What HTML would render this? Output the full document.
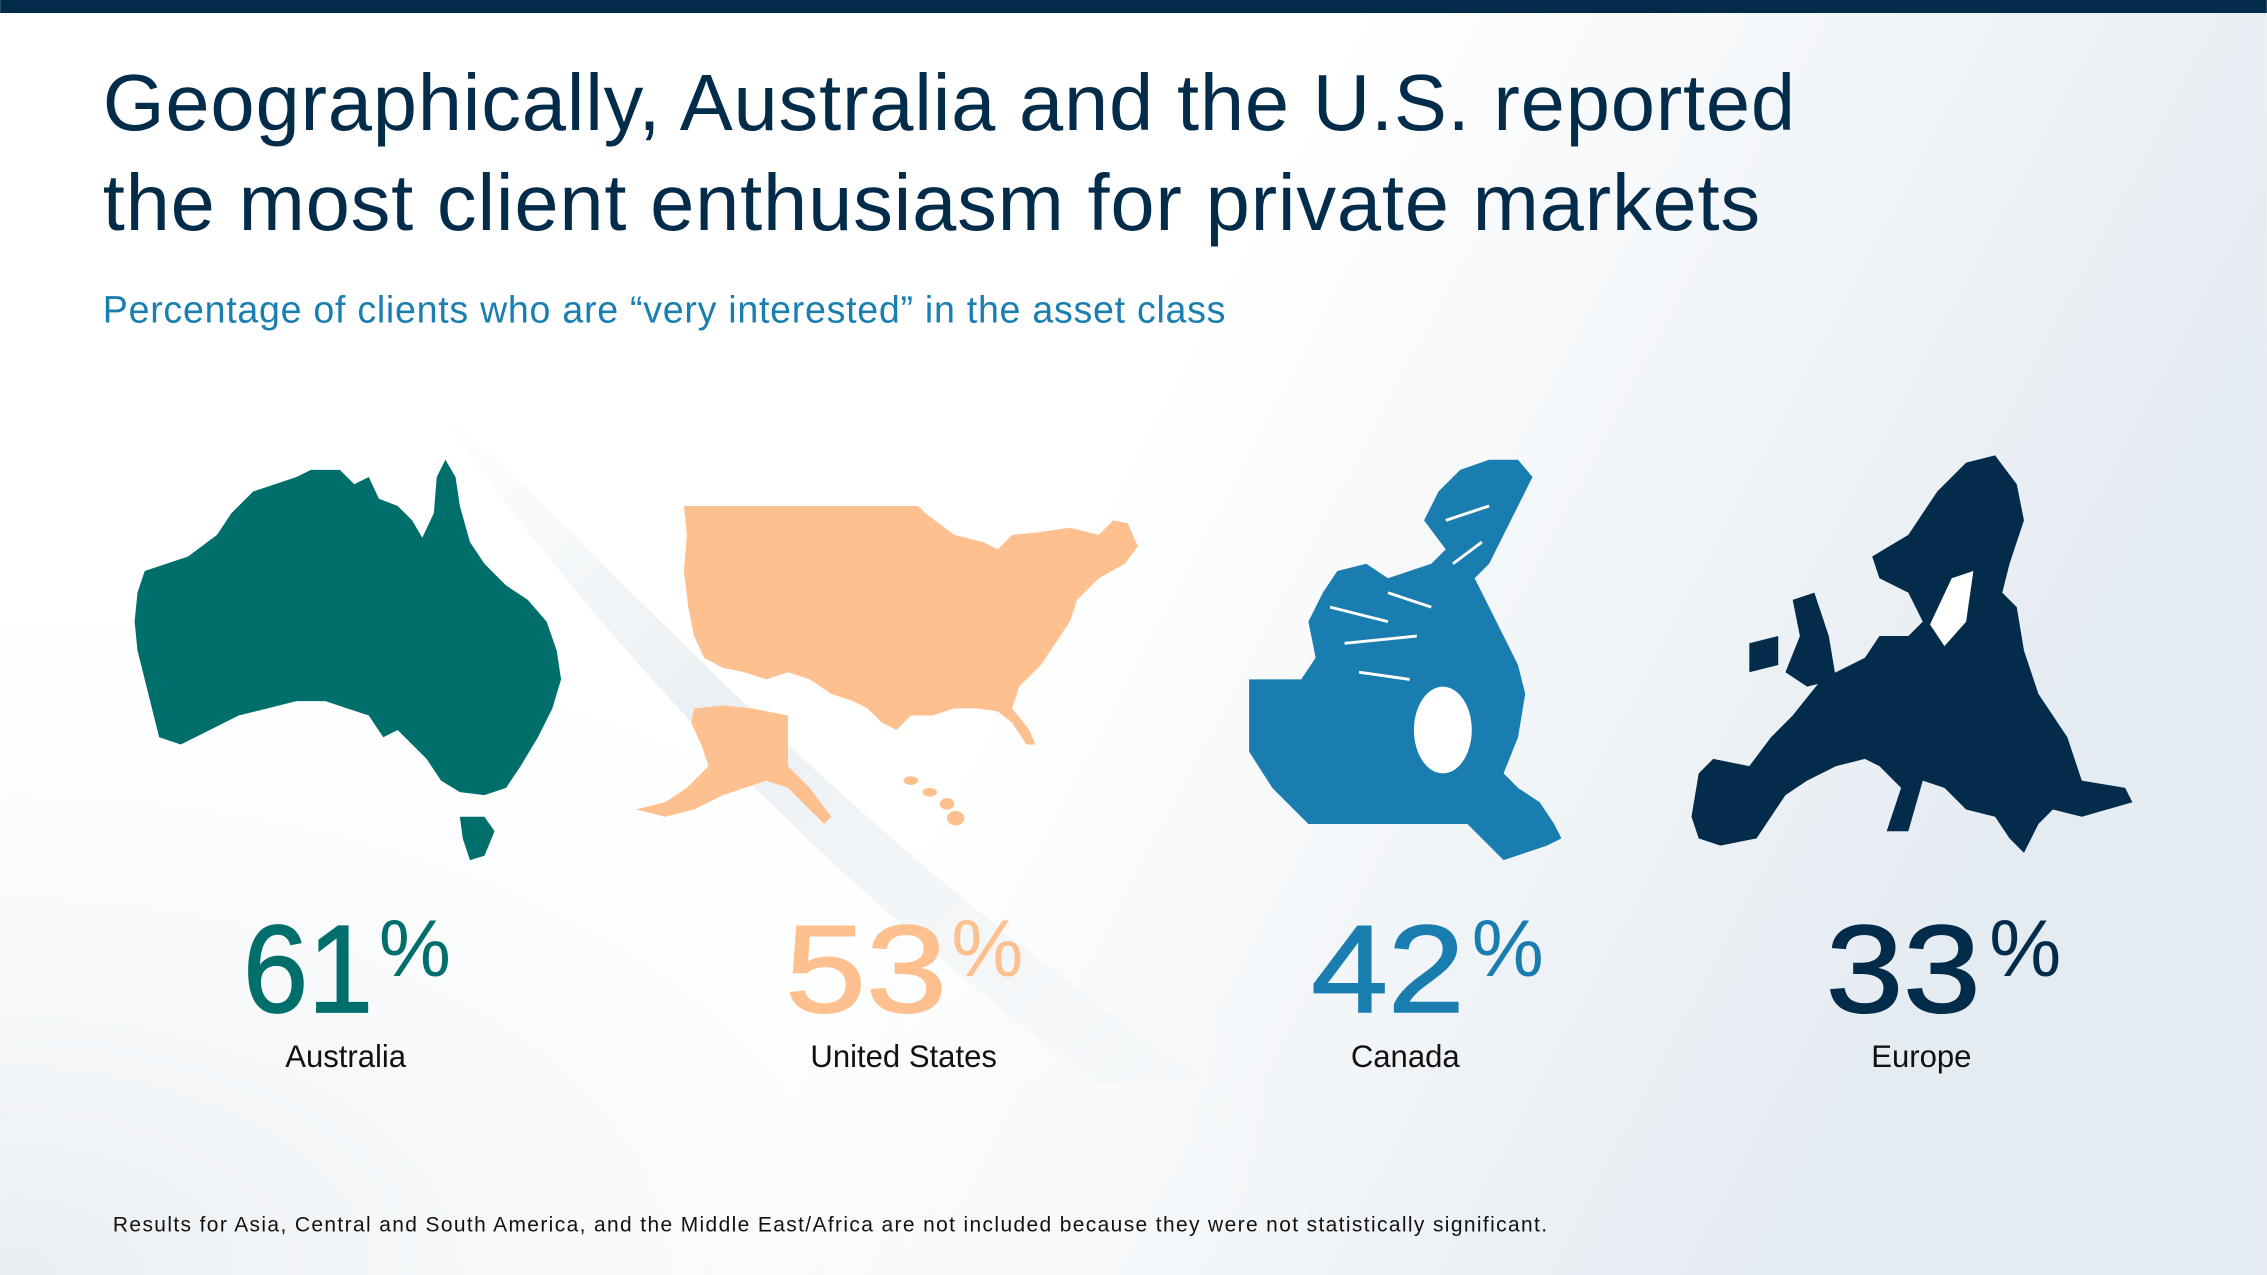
<!DOCTYPE html>
<html><head><meta charset="utf-8"><style>
html,body{margin:0;padding:0;width:2267px;height:1275px;overflow:hidden;background:#fff}
svg{display:block}
text{font-family:"Liberation Sans",sans-serif}
</style></head><body>
<svg width="2267" height="1275" viewBox="0 0 1568 882" xmlns="http://www.w3.org/2000/svg">
<defs>
<linearGradient id="bg" x1="0" y1="0" x2="1" y2="0.3">
<stop offset="0" stop-color="#ffffff"/><stop offset="0.55" stop-color="#ffffff"/><stop offset="1" stop-color="#e4ebf1"/>
</linearGradient>
<radialGradient id="bl" cx="0" cy="1" r="0.6">
<stop offset="0" stop-color="#e9eef2"/><stop offset="1" stop-color="#ffffff" stop-opacity="0"/>
</radialGradient>
<linearGradient id="band" x1="0" y1="0" x2="1" y2="1">
<stop offset="0" stop-color="#e8eef2" stop-opacity="0"/><stop offset="0.4" stop-color="#e8eef2" stop-opacity="0.9"/><stop offset="1" stop-color="#eef2f5" stop-opacity="0.2"/>
</linearGradient>
</defs>
<rect width="1568" height="882" fill="url(#bg)"/>
<rect width="1568" height="882" fill="url(#bl)"/>
<path d="M300,280 C420,380 560,560 830,745 L760,750 C560,600 420,450 300,280 Z" fill="url(#band)"/>
<rect width="1568" height="9" fill="#032b4a"/>
<text x="71" y="90" font-size="55" fill="#032b4a" letter-spacing="0.55">Geographically, Australia and the U.S. reported</text>
<text x="71" y="159" font-size="55" fill="#032b4a" letter-spacing="0.55">the most client enthusiasm for private markets</text>
<text x="71" y="223" font-size="26" fill="#1a7fb0" letter-spacing="0.5">Percentage of clients who are “very interested” in the asset class</text>

<!-- Australia -->
<path fill="#006e6a" d="M95,410 L100,395 130,385 150,370 160,355 175,340 190,335 205,330 215,325 235,325 245,335 255,330 262,345 275,350 285,360 292,372 300,355 302,330 308,318 315,330 318,350 325,375 335,390 350,405 365,415 378,430 385,450 388,470 382,490 372,510 360,530 350,545 335,550 318,548 305,540 295,525 285,515 275,505 265,510 255,495 240,490 225,485 205,485 185,490 165,495 145,505 125,515 110,510 105,490 100,470 95,450 93,430 Z M318,565 L335,565 342,575 335,592 325,595 320,580 Z"/>
<!-- US -->
<path fill="#fdc08e" d="M473,350 L635,350 640,355 660,370 680,375 690,380 700,370 720,368 740,365 760,370 770,360 780,362 787,378 778,390 760,400 745,415 740,430 730,445 720,460 705,475 700,490 712,505 716,515 710,515 700,500 690,492 675,490 660,490 645,495 630,495 620,505 610,500 600,490 590,485 575,480 560,470 545,465 530,470 515,465 500,462 487,455 480,440 476,420 473,395 475,370 Z M480,490 L500,488 520,490 545,495 545,530 560,545 575,565 570,570 560,560 545,545 530,540 515,545 500,550 480,560 460,565 440,560 460,555 475,545 490,530 485,515 478,500 Z"/>
<g fill="#fdc08e"><ellipse cx="630" cy="540" rx="5" ry="3"/><ellipse cx="643" cy="548" rx="5" ry="3"/><ellipse cx="655" cy="556" rx="5" ry="4"/><ellipse cx="661" cy="566" rx="6" ry="5"/></g>
<!-- Canada -->
<path fill="#1a7db0" d="M864,470 L900,470 910,455 905,430 915,410 925,395 945,390 960,400 975,395 990,390 1000,380 985,360 995,340 1010,325 1030,318 1050,318 1060,330 1050,350 1040,370 1030,390 1020,400 1030,420 1040,440 1050,460 1055,480 1050,510 1040,535 1050,545 1065,555 1075,570 1080,580 1070,585 1055,590 1040,595 1030,585 1015,570 995,570 960,570 930,570 905,570 880,545 864,520 Z"/>
<ellipse cx="998" cy="505" rx="20" ry="30" fill="#ffffff"/>
<g stroke="#ffffff" stroke-width="2" fill="none"><path d="M920,420 L960,430 M930,445 L980,440 M960,410 L990,420 M1000,360 L1030,350 M1005,390 L1025,375 M940,465 L975,470"/></g>
<!-- Europe -->
<path fill="#032b4a" d="M1170,565 L1175,535 1185,525 1210,530 1225,510 1240,495 1260,470 1290,455 1300,440 1320,440 1330,430 1320,410 1300,400 1295,385 1320,370 1340,340 1360,320 1380,315 1395,335 1400,360 1390,390 1385,410 1395,420 1400,450 1410,480 1430,510 1440,540 1470,545 1475,555 1440,565 1420,560 1410,570 1400,590 1390,580 1380,565 1360,560 1345,545 1330,540 1320,575 1305,575 1315,545 1300,530 1290,525 1270,530 1250,540 1235,550 1215,580 1190,585 1175,580 Z M1240,415 L1255,410 1265,440 1270,470 1250,475 1235,465 1245,440 Z M1210,445 L1230,440 1230,460 1210,465 Z"/>
<path fill="#ffffff" d="M1335,432 L1350,400 1365,395 1360,430 1345,447 Z"/>

<!-- numbers -->
<g font-size="86" stroke-width="1.2">
<text x="168" y="700" fill="#006e6a" stroke="#006e6a" textLength="90" lengthAdjust="spacingAndGlyphs">61</text>
<text x="543" y="700" fill="#fdc08e" stroke="#fdc08e" textLength="112" lengthAdjust="spacingAndGlyphs">53</text>
<text x="907" y="700" fill="#1a7db0" stroke="#1a7db0" textLength="106" lengthAdjust="spacingAndGlyphs">42</text>
<text x="1263" y="700" fill="#032b4a" stroke="#032b4a" textLength="107" lengthAdjust="spacingAndGlyphs">33</text>
</g>
<g font-size="56">
<text x="262" y="675" fill="#006e6a">%</text>
<text x="658" y="675" fill="#fdc08e">%</text>
<text x="1018" y="675" fill="#1a7db0">%</text>
<text x="1376" y="675" fill="#032b4a">%</text>
</g>
<g font-size="21.5" fill="#111" text-anchor="middle">
<text x="239" y="738">Australia</text>
<text x="625" y="738">United States</text>
<text x="972" y="738">Canada</text>
<text x="1329" y="738">Europe</text>
</g>
<text x="78" y="852" font-size="14.5" fill="#111" letter-spacing="0.95">Results for Asia, Central and South America, and the Middle East/Africa are not included because they were not statistically significant.</text>
</svg>
</body></html>
